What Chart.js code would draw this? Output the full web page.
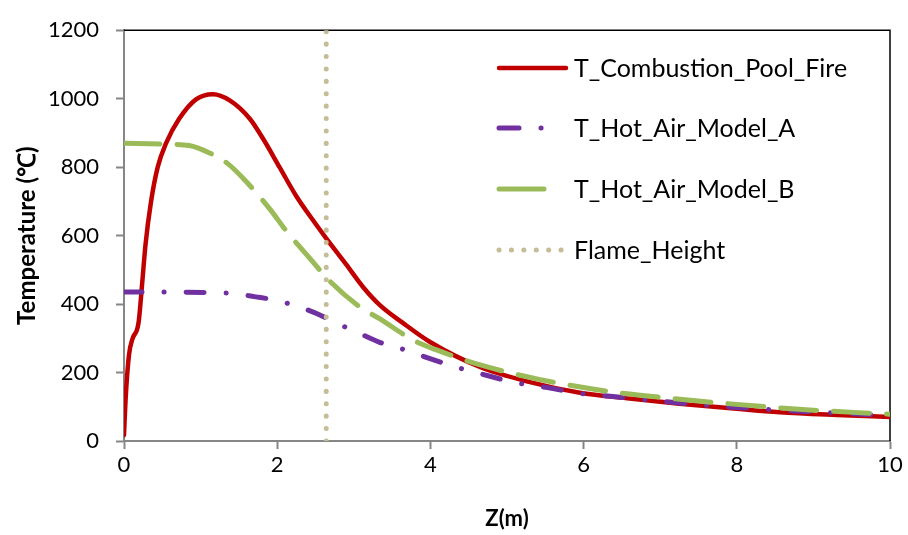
<!DOCTYPE html>
<html>
<head>
<meta charset="utf-8">
<script src="https://cdn.jsdelivr.net/npm/chart.js@4/dist/chart.umd.min.js"></script>
<style>
  html, body { margin: 0; padding: 0; background: #fff; }
  #wrap { width: 908px; height: 535px; position: relative; }
</style>
</head>
<body>
<div id="wrap"><canvas id="chart"></canvas></div>
<script>
// 燃焼プール火災の温度分布 (値はグラフから読み取り)
const combustionZ = [0, 0.02, 0.065, 0.11, 0.19, 0.24, 0.28, 0.35, 0.44, 0.55, 0.72, 0.94, 1.16, 1.38, 1.64, 1.81, 2.03, 2.25, 2.47, 2.64, 2.9, 3.12, 3.34, 3.64, 3.99, 4.64, 5.3, 5.95, 6.6, 7.25, 8.0, 8.56, 9.3, 10];
const combustionT = [17, 118, 251, 298, 346, 468, 572, 695, 800, 870, 941, 998, 1013, 995, 942, 885, 800, 715, 644, 592, 516, 450, 397, 345, 290, 217, 172, 141, 124, 109, 94, 84, 76, 70];

const modelAZ = [0, 0.6, 1.2, 1.42, 1.72, 1.94, 2.27, 2.55, 2.77, 3.05, 3.33, 3.59, 3.86, 4.38, 4.68, 5.12, 5.53, 5.95, 6.38, 7.25, 8.13, 9.0, 9.85, 10];
const modelAT = [435, 435, 433, 431, 421, 413, 393, 369, 345, 317, 289, 272, 251, 213, 195, 170, 156, 139, 130, 111, 96, 85, 76, 74];

const modelBZ = [0, 0.54, 0.85, 1.11, 1.35, 1.57, 1.92, 2.11, 2.46, 2.66, 3.07, 3.33, 3.79, 4.08, 4.64, 5.42, 6.29, 7.16, 8.0, 8.86, 9.74, 10];
const modelBT = [870, 867, 863, 842, 811, 764, 673, 616, 525, 473, 393, 358, 293, 266, 223, 180, 146, 124, 107, 92, 81, 78];

const flameZ = [2.64, 2.64];
const flameT = [0, 1200];

const xTicks = [0, 2, 4, 6, 8, 10];
const yTicks = [0, 200, 400, 600, 800, 1000, 1200];

const FONT = 'Lato, "Open Sans", sans-serif';

function toPoints(xs, ys) {
    return xs.map((x, i) => ({ x: x, y: ys[i] }));
}

const seriesStyles = [
    { label: 'T_Combustion_Pool_Fire', color: '#c00000', width: 4.5, dash: [], legendDash: [] },
    { label: 'T_Hot_Air_Model_A', color: '#7030a0', width: 5, dash: [18, 22, 0.1, 22], legendDash: [20, 22, 0.1, 25, 0.1, 30] },
    { label: 'T_Hot_Air_Model_B', color: '#9bbb59', width: 5, dash: [36, 17], legendDash: [45, 22, 0.1, 30] },
    { label: 'Flame_Height', color: '#c4bd97', width: 5, dash: [0.1, 12.3], legendDash: [0.1, 12.3] }
];

const seriesData = [
    toPoints(combustionZ, combustionT),
    toPoints(modelAZ, modelAT),
    toPoints(modelBZ, modelBT),
    toPoints(flameZ, flameT)
];

// 凡例をプロット内に描画
const insideLegend = {
    id: 'insideLegend',
    afterDraw(chart) {
        const ctx = chart.ctx;
        const rowsY = [68, 128, 189, 250];
        ctx.save();
        ctx.font = '25px ' + FONT;
        ctx.textBaseline = 'middle';
        ctx.fillStyle = '#000';
        seriesStyles.forEach((s, i) => {
            const y = rowsY[i];
            ctx.beginPath();
            ctx.strokeStyle = s.color;
            ctx.lineWidth = s.width;
            ctx.lineCap = 'round';
            ctx.setLineDash(s.legendDash);
            ctx.moveTo(499, y);
            ctx.lineTo(566, y);
            ctx.stroke();
            ctx.setLineDash([]);
            ctx.fillText(s.label, 574, y + 1);
        });
        ctx.restore();
    }
};

// プロット枠 (上・右は黒)
const frame = {
    id: 'frame',
    beforeDatasetsDraw(chart) {
        const a = chart.chartArea;
        const ctx = chart.ctx;
        ctx.save();
        ctx.strokeStyle = '#000';
        ctx.lineWidth = 1.5;
        ctx.beginPath();
        ctx.moveTo(a.left, a.top);
        ctx.lineTo(a.right, a.top);
        ctx.lineTo(a.right, a.bottom);
        ctx.stroke();
        ctx.restore();
    }
};

new Chart(document.getElementById('chart'), {
    type: 'scatter',
    data: {
        datasets: seriesStyles.map((s, i) => ({
            label: s.label,
            data: seriesData[i],
            showLine: true,
            borderColor: s.color,
            backgroundColor: s.color,
            borderWidth: s.width,
            borderDash: s.dash,
            borderCapStyle: 'round',
            pointRadius: 0,
            cubicInterpolationMode: i === 3 ? 'default' : 'monotone',
            order: 4 - i
        }))
    },
    options: {
        responsive: true,
        maintainAspectRatio: false,
        animation: false,
        layout: { padding: { left: 0, top: 19, right: 18, bottom: 0 } },
        plugins: {
            legend: { display: false },
            tooltip: { enabled: false }
        },
        scales: {
            x: {
                type: 'linear',
                min: 0,
                max: 10,
                afterBuildTicks(scale) { scale.ticks = xTicks.map(v => ({ value: v })); },
                afterFit(scale) { scale.height = 94; },
                grid: { drawOnChartArea: false, tickLength: 8, color: '#868686', tickWidth: 2 },
                border: { color: '#868686', width: 2 },
                ticks: { color: '#000', font: { family: FONT, size: 22 }, padding: 3, maxRotation: 0, callback: v => String(v) },
                title: { display: true, text: 'Z(m)', color: '#000', font: { family: FONT, size: 22, weight: 'bold' }, padding: { top: 0, bottom: 3 } }
            },
            y: {
                min: 0,
                max: 1200,
                afterBuildTicks(scale) { scale.ticks = yTicks.map(v => ({ value: v })); },
                afterFit(scale) { scale.width = 124; },
                grid: { drawOnChartArea: false, tickLength: 8, color: '#868686', tickWidth: 2 },
                border: { color: '#868686', width: 2 },
                ticks: { color: '#000', font: { family: FONT, size: 22 }, padding: 17, callback: v => String(v) },
                title: { display: true, text: 'Temperature (℃)', color: '#000', font: { family: FONT, size: 24, weight: 'bold' }, padding: { top: 13, bottom: 0 } }
            }
        }
    },
    plugins: [frame, insideLegend]
});
</script>
</body>
</html>
